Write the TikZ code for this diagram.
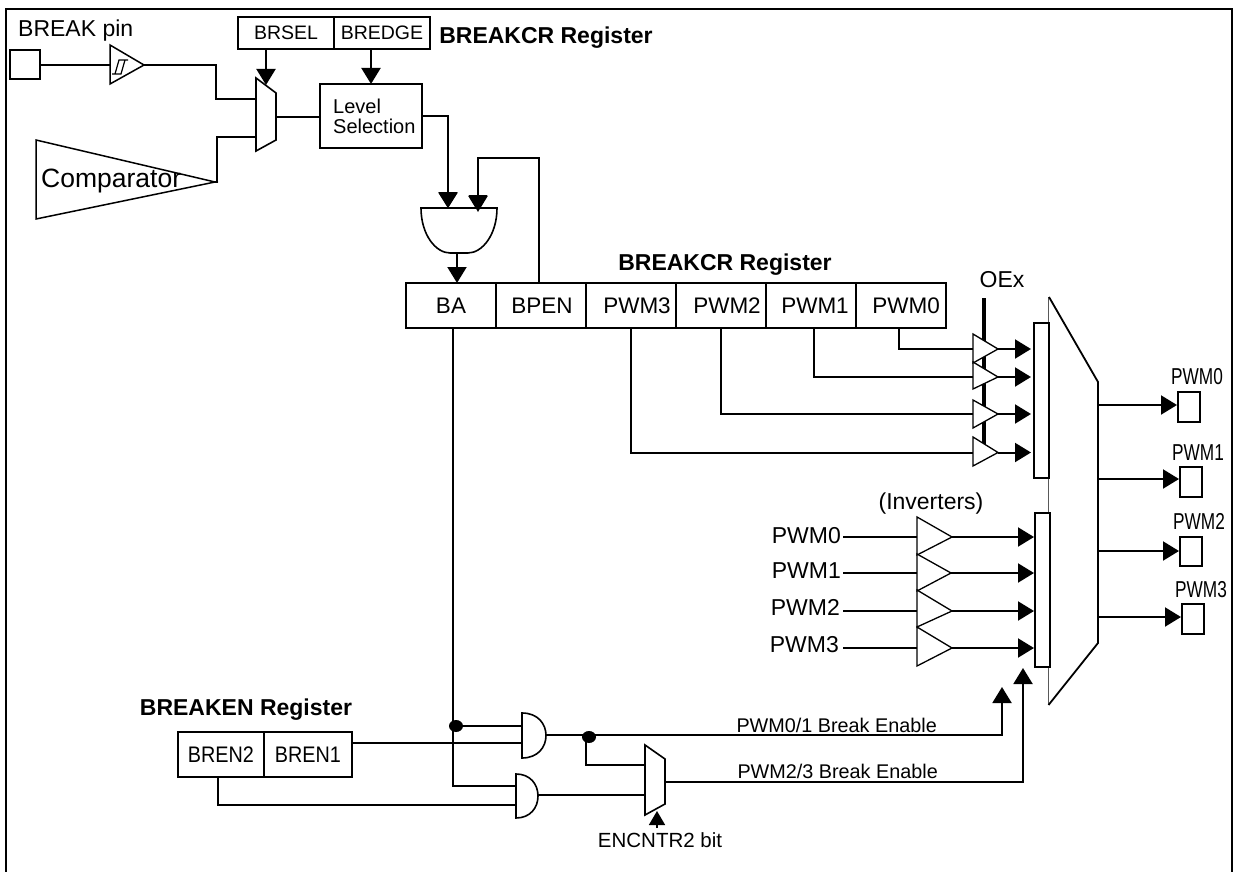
\documentclass[tikz,border=0pt]{standalone}
\usepackage{fontspec}
\usepackage{graphicx}
\setmainfont{Liberation Sans}
\usetikzlibrary{arrows.meta,shapes.geometric}
\newcommand{\narrowtxt}[2]{\scalebox{#1}[1]{#2}}
\tikzset{
  wire/.style={line width=2pt,line join=miter},
  arr/.style={wire,-{Triangle[width=19pt,length=16pt,inset=0pt]},shorten >=0pt},
  cell/.style={draw,line width=2pt,inner sep=0pt,fill=white,font=\fontsize{22.5}{26}\selectfont},
  cellsmall/.style={cell,font=\fontsize{19.5}{23}\selectfont},
  pad/.style={draw,line width=2pt,inner sep=0pt,fill=white},
  txt/.style={inner sep=0pt,font=\fontsize{23}{26}\selectfont},
  txtsmall/.style={inner sep=0pt,font=\fontsize{20.5}{24}\selectfont},
  txtenable/.style={inner sep=0pt,font=\fontsize{19.8}{24}\selectfont},
  txtbold/.style={inner sep=0pt,font=\fontsize{23}{26}\selectfont\bfseries},
  gate/.style={draw,line width=1.6pt,fill=white,line join=miter},
  buf/.style={draw,line width=1.3pt,fill=white,line join=miter},
  junction/.style={fill=black,ellipse,inner sep=0pt,minimum width=14pt,minimum height=12pt},
}
\begin{document}
\begin{tikzpicture}[x=1pt,y=-1pt]
\useasboundingbox (0,0) rectangle (1237,872);
% frame
\draw[line width=2.2pt] (6,872) -- (6,9) -- (1232,9) -- (1232,872);

% ---------- named anchor points
\coordinate (cmpTip) at (215,182);
\coordinate (bufTip) at (144,65);
\coordinate (bufIn) at (110,65);
\coordinate (muxA) at (258,99);
\coordinate (muxB) at (258,137);
\coordinate (muxO) at (274,117);
\coordinate (muxS) at (266,85);
\coordinate (andA) at (448,208);
\coordinate (andB) at (478,212);
\coordinate (andO) at (457,253);
\coordinate (oexTop) at (984,298);
\coordinate (oexBot) at (984,445);

% ---------- top part
\node[pad,minimum width=30pt,minimum height=29pt] (pin) at (25,65) {};
\node[txt,anchor=west] (pinlabel) at (18,31) {BREAK pin};
\node[cellsmall,minimum width=96pt,minimum height=32pt] (brsel) at (286,33) {BRSEL};
\node[cellsmall,minimum width=96pt,minimum height=32pt] (bredge) at (382,33) {BREDGE};
\node[txtbold,anchor=center] (crlabel1) at (546,38) {BREAKCR Register};
\node[cell,minimum width=102pt,minimum height=64pt,align=left,anchor=center] (level) at (371,116) {};
\node[inner sep=0pt,anchor=west,align=left,font=\fontsize{20}{20}\selectfont] (leveltxt) at (333,116) {Level\\Selection};

\draw[wire] (pin.east) -- (bufIn);
\draw[wire] (bufTip) -- (216,65) -- (216,99) -- (muxA);
\draw[wire] (cmpTip) -- (217,182) -- (217,137) -- (muxB);
\draw[wire] (muxO) -- (level.west |- muxO);

\draw[buf,line width=1.5pt] (110,45) -- (144,65) -- (110,84) -- cycle;
\draw[line width=1.2pt] (112,74) -- (121,74) -- (125,60) -- (128,60) -- (119,60) -- (115,74);
\draw[buf,line width=1.5pt] (36,140) -- (215,182) -- (36,219) -- cycle;
\node[inner sep=0pt,anchor=west,font=\fontsize{26.5}{30}\selectfont] (cmplabel) at (41,181) {Comparator};
\draw[gate] (256,78) -- (276,93) -- (276,140) -- (256,151) -- cycle;

\draw[arr] (brsel.south -| muxS) -- (muxS);
\coordinate (lvlT) at (371,84);
\draw[arr] (bredge.south -| lvlT) -- (lvlT);
\draw[wire] (level.east |- 0,116) -- (448,116) -- (448,150);
\draw[arr] (448,150) -- (andA);

% ---------- BREAKCR register
\node[txtbold] (crlabel2) at (725,265) {BREAKCR Register};
\node[cell,minimum width=90pt,minimum height=45pt,text depth=0pt] (ba) at (451,305.5) {BA};
\node[cell,minimum width=90pt,minimum height=45pt] (bpen) at (541,305.5) {\hspace*{2pt}BPEN};
\node[cell,minimum width=90pt,minimum height=45pt] (pw3) at (631,305.5) {\hspace*{12pt}PWM3};
\node[cell,minimum width=90pt,minimum height=45pt] (pw2) at (721,305.5) {\hspace*{12pt}PWM2};
\node[cell,minimum width=90pt,minimum height=45pt] (pw1) at (811,305.5) {\hspace*{8pt}PWM1};
\node[cell,minimum width=90pt,minimum height=45pt] (pw0) at (901,305.5) {\hspace*{10pt}PWM0};

\coordinate (bpenT) at (539,283);
\draw[wire] (bpenT) -- (539,158) -- (478,158) -- (478,190);
\draw[arr] (478,190) -- (andB);
\draw[gate] (421,208) -- (497,208) .. controls (497,235) and (482,253) .. (468,253) -- (450,253) .. controls (436,253) and (421,235) .. (421,208) -- cycle;
\draw[arr] (andO) -- (457,283);
% arrow tips above the gate's top edge
\fill (438.5,193) -- (457.5,193) -- (448,208) -- cycle;
\fill (468.5,195) -- (487.5,195) -- (478,212) -- cycle;

% OEx + buffers
\node[txt] (oexlabel) at (1002,280) {OEx};
\draw[line width=4pt] (oexTop) -- (oexBot);

\coordinate (p0) at (899,328);
\coordinate (p1) at (814,328);
\coordinate (p2) at (721,328);
\coordinate (p3) at (631,328);
\coordinate (b0) at (973,349);
\coordinate (b1) at (973,377);
\coordinate (b2) at (973,414);
\coordinate (b3) at (973,452.5);
\draw[wire] (p0) -- (p0 |- b0) -- (b0);
\draw[wire] (p1) -- (p1 |- b1) -- (b1);
\draw[wire] (p2) -- (p2 |- b2) -- (b2);
\draw[wire] (p3) -- (p3 |- b3) -- (b3);

\draw[buf] (973,334) -- (998,349) -- (973,363) -- cycle;
\draw[buf] (973,362) -- (998,377) -- (973,389) -- cycle;
\draw[buf] (973,400) -- (998,414) -- (973,428) -- cycle;
\draw[buf] (973,437) -- (998,452.5) -- (973,466) -- cycle;

\foreach \yy in {349,377,414,452.5}{
  \draw[arr] (998,\yy) -- (1031,\yy);
}

% big mux
\draw[line width=1.6pt,black!65] (1048.5,297) -- (1048.5,705);
\draw[line width=1.8pt] (1049,297) -- (1098,382) -- (1098,643) -- (1048.5,705);
\node[pad,minimum width=15pt,minimum height=155pt] (sel1) at (1041.5,400.5) {};
\node[pad,minimum width=15pt,minimum height=154pt] (sel2) at (1042.5,590) {};

% output pads
\node[pad,minimum width=22pt,minimum height=30pt] (o0) at (1189,407) {};
\node[pad,minimum width=22pt,minimum height=30pt] (o1) at (1191,482) {};
\node[pad,minimum width=22pt,minimum height=29pt] (o2) at (1191,551.5) {};
\node[pad,minimum width=22pt,minimum height=30pt] (o3) at (1193,619) {};
\coordinate (m0) at (1098,405);
\coordinate (m1) at (1098,479);
\coordinate (m2) at (1098,551);
\coordinate (m3) at (1098,617);
\draw[arr] (m0) -- (o0.west |- m0);
\draw[arr] (m1) -- (o1.west |- m1);
\draw[arr] (m2) -- (o2.west |- m2);
\draw[arr] (m3) -- (o3.west |- m3);
\node[txt] (ol0) at (1197,377) {\narrowtxt{.75}{PWM0}};
\node[txt] (ol1) at (1198,453) {\narrowtxt{.75}{PWM1}};
\node[txt] (ol2) at (1199,521) {\narrowtxt{.75}{PWM2}};
\node[txt] (ol3) at (1201,590) {\narrowtxt{.75}{PWM3}};

% inverters
\node[txt] (invlabel) at (931,504) {(Inverters)};
\node[txt,anchor=east] (i0) at (841,536) {PWM0};
\node[txt,anchor=east] (i1) at (841,571) {PWM1};
\node[txt,anchor=east] (i2) at (840,607) {PWM2};
\node[txt,anchor=east] (i3) at (839,645) {PWM3};
\coordinate (n0) at (917,537);
\coordinate (n1) at (917,573);
\coordinate (n2) at (917,611);
\coordinate (n3) at (917,648);
\draw[wire] (843,537) -- (n0);
\draw[wire] (843,573) -- (n1);
\draw[wire] (843,611) -- (n2);
\draw[wire] (843,648) -- (n3);
\draw[buf] (917,517) -- (952,537) -- (917,555) -- cycle;
\draw[buf] (917,554) -- (951,573) -- (917,591) -- cycle;
\draw[buf] (917,590) -- (952,611) -- (917,627) -- cycle;
\draw[buf] (917,627) -- (952,648) -- (917,666) -- cycle;
\draw[arr] (952,537) -- (sel2.west |- n0);
\draw[arr] (951,573) -- (sel2.west |- n1);
\draw[arr] (952,611) -- (sel2.west |- n2);
\draw[arr] (952,648) -- (sel2.west |- n3);

% ---------- bottom part
\node[txtbold] (enlabel) at (246,710) {BREAKEN Register};
\node[cell,minimum width=86pt,minimum height=45pt] (bren2) at (221,754.5) {\narrowtxt{.88}{BREN2}};
\node[cell,minimum width=88pt,minimum height=45pt] (bren1) at (308,754.5) {\narrowtxt{.88}{BREN1}};

\coordinate (baB) at (453,328);
\coordinate (g1a) at (522,726);
\coordinate (g1b) at (522,742.5);
\coordinate (g1o) at (546,735);
\coordinate (g2a) at (516,786);
\coordinate (g2b) at (516,805);
\coordinate (g2o) at (538,795);
\coordinate (mx2a) at (647,765);
\coordinate (mx2b) at (647,795);
\coordinate (mx2o) at (665,782);
\coordinate (breakA) at (1002,687);
\coordinate (breakB) at (1023,668);
\coordinate (encTip) at (657,811);
\coordinate (encTail) at (657,828);
\coordinate (bren2B) at (218,777);

\draw[wire] (baB) -- (453,786) -- (g2a);
\node[junction] (j1) at (456,726) {};
\draw[wire] (j1.center) -- (g1a);
\draw[wire] (bren1.east |- g1b) -- (g1b);
\draw[wire] (bren2B) -- (218,805) -- (g2b);
\draw[wire] (g2o) -- (mx2b);
\draw[arr] (g1o) -- (1002,735) -- (breakA);
\node[junction] (j2) at (589,737) {};
\draw[wire] (586,737) -- (586,765) -- (mx2a);
\draw[arr] (mx2o) -- (1023,782) -- (breakB);

\draw[gate] (522,713) .. controls (538,713) and (546,724) .. (546,735.5) .. controls (546,747) and (538,758) .. (522,758) -- cycle;
\draw[gate] (516,774) .. controls (530,774) and (538,784) .. (538,796) .. controls (538,808) and (530,818) .. (516,818) -- cycle;
\draw[gate] (645,745) -- (665,759) -- (665,804) -- (645,815) -- cycle;

\draw[line width=1.6pt,-{Triangle[width=16pt,length=14pt,inset=0pt]}] (encTail) -- (encTip);
\node[txtsmall] (enclabel) at (660,840) {ENCNTR2 bit};
\node[txtenable,anchor=base east] (be1) at (937,732) {PWM0/1 Break Enable};
\node[txtenable,anchor=base east] (be2) at (938,778) {PWM2/3 Break Enable};
\end{tikzpicture}
\end{document}
